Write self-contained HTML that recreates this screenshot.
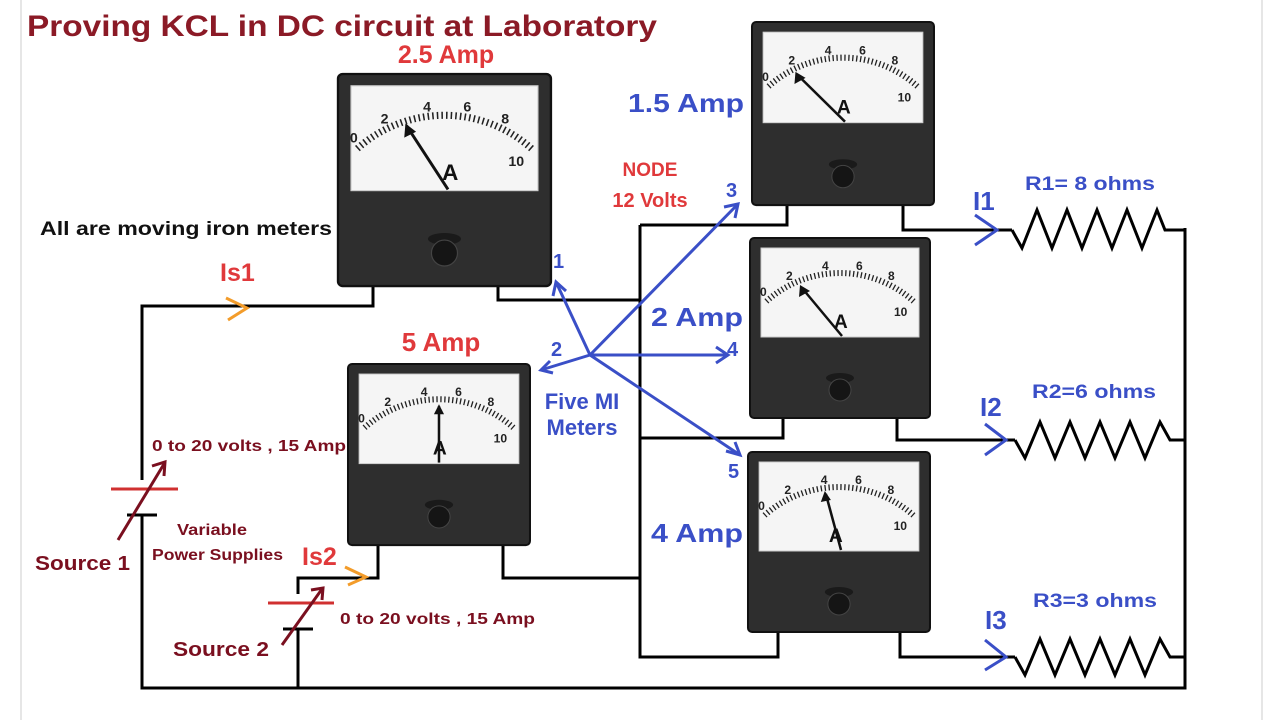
<!DOCTYPE html>
<html><head><meta charset="utf-8"><style>
html,body{margin:0;padding:0;background:#fff;}
svg{display:block;}
text{font-family:"Liberation Sans",sans-serif;font-weight:bold;}
</style></head><body>
<svg width="1280" height="720" viewBox="0 0 1280 720" xmlns="http://www.w3.org/2000/svg">
<rect width="1280" height="720" fill="#fff"/>
<line x1="21" y1="0" x2="21" y2="720" stroke="#e6e6e6" stroke-width="2"/>
<line x1="1262" y1="0" x2="1262" y2="720" stroke="#e6e6e6" stroke-width="2"/>

<g stroke="#000" stroke-width="3" fill="none">
<path d="M373,286 V306 H142 V688 H1185 V228"/>
<path d="M498,286 V300 H640"/>
<path d="M640,225 H787 V205"/>
<path d="M640,225 V657 H778 V632"/>
<path d="M640,438 H783 V418"/>
<path d="M503,545 V578 H640"/>
<path d="M378,545 V578 H298 V688"/>
<path d="M903,205 V230 H1012"/>
<path d="M897,418 V440 H1015"/>
<path d="M900,632 V657 H1015"/>
<path d="M1012,230 L1022,248 L1037,210 L1052,248 L1067,210 L1082,248 L1097,210 L1112,248 L1127,210 L1142,248 L1157,210 L1165,230 H1185"/>
<path d="M1015,440 L1025,458 L1040,422 L1055,458 L1070,422 L1085,458 L1100,422 L1115,458 L1130,422 L1145,458 L1160,422 L1170,440 H1185"/>
<path d="M1015,657 L1025,675 L1040,639 L1055,675 L1070,639 L1085,675 L1100,639 L1115,675 L1130,639 L1145,675 L1160,639 L1170,657 H1185"/>
</g>
<rect x="130" y="480" width="30" height="40" fill="#fff"/>
<line x1="111" y1="489" x2="178" y2="489" stroke="#d03030" stroke-width="3"/>
<line x1="127" y1="515" x2="157" y2="515" stroke="#000" stroke-width="3"/>
<line x1="142" y1="515" x2="142" y2="530" stroke="#000" stroke-width="3"/>
<line x1="118" y1="540" x2="164" y2="464" stroke="#7a0f1f" stroke-width="3"/>
<path d="M152,466 L165,462 L164,476" stroke="#7a0f1f" stroke-width="3" fill="none"/>
<rect x="290" y="594" width="20" height="36" fill="#fff"/>
<line x1="268" y1="603" x2="334" y2="603" stroke="#d03030" stroke-width="3"/>
<line x1="283" y1="629" x2="313" y2="629" stroke="#000" stroke-width="3"/>
<line x1="298" y1="629" x2="298" y2="640" stroke="#000" stroke-width="3"/>
<line x1="282" y1="645" x2="322" y2="589" stroke="#7a0f1f" stroke-width="3"/>
<path d="M311,590 L323,588 L322,600" stroke="#7a0f1f" stroke-width="3" fill="none"/>

<path d="M226,298 L247,308 L228,320" stroke="#f39c2a" stroke-width="3" fill="none"/>
<path d="M345,567 L366,577 L348,585" stroke="#f39c2a" stroke-width="3" fill="none"/>
<g stroke="#3a4fc7" stroke-width="3" fill="none">
<path d="M975,215 L997,230 L975,245"/>
<path d="M985,424 L1006,440 L985,455"/>
<path d="M985,640 L1006,657 L985,670"/>
</g>
<g stroke="#3a4fc7" stroke-width="3" fill="none">
<line x1="590" y1="355" x2="556" y2="282"/><path d="M553,296 L556,282 L566,291"/>
<line x1="590" y1="355" x2="541" y2="370"/><path d="M550,361 L541,370 L553,373"/>
<line x1="590" y1="355" x2="738" y2="204"/><path d="M724,207 L738,204 L735,218"/>
<line x1="590" y1="355" x2="728" y2="355"/><path d="M716,347 L728,355 L716,363"/>
<line x1="590" y1="355" x2="740" y2="455"/><path d="M726,451 L740,455 L735,442"/>
</g>

<g transform="translate(338,74) scale(1.183,1.178)">
<rect x="0" y="0" width="180" height="180" rx="4" fill="#2e2e2e" stroke="#111" stroke-width="2"/>
<rect x="11" y="10" width="158" height="89" fill="#f5f5f5" stroke="#ccc"/>
<path d="M16.4,63.3 A110,110 0 0 1 163.6,63.3" stroke="#222" stroke-width="6" fill="none" stroke-dasharray="1.3 2.6"/>
<g font-size="12" fill="#222"><text x="10" y="58">0</text><text x="36" y="42">2</text><text x="72" y="32">4</text><text x="106" y="32">6</text><text x="138" y="42">8</text><text x="144" y="78">10</text></g>
<line x1="93" y1="98" x2="58" y2="44" stroke="#111" stroke-width="2.5"/><path d="M56,54 L57,42 L66,49 Z" fill="#111"/>
<text x="88" y="90" font-size="19" fill="#111">A</text>
<ellipse cx="90" cy="140" rx="14" ry="5" fill="#1a1a1a"/><circle cx="90" cy="152" r="11" fill="#151515" stroke="#444"/>
</g>
<g transform="translate(752,22) scale(1.011,1.017)">
<rect x="0" y="0" width="180" height="180" rx="4" fill="#2e2e2e" stroke="#111" stroke-width="2"/>
<rect x="11" y="10" width="158" height="89" fill="#f5f5f5" stroke="#ccc"/>
<path d="M16.4,63.3 A110,110 0 0 1 163.6,63.3" stroke="#222" stroke-width="6" fill="none" stroke-dasharray="1.3 2.6"/>
<g font-size="12" fill="#222"><text x="10" y="58">0</text><text x="36" y="42">2</text><text x="72" y="32">4</text><text x="106" y="32">6</text><text x="138" y="42">8</text><text x="144" y="78">10</text></g>
<line x1="92" y1="98" x2="45" y2="52" stroke="#111" stroke-width="2.5"/><path d="M42,61 L43,49 L53,55 Z" fill="#111"/>
<text x="84" y="90" font-size="19" fill="#111">A</text>
<ellipse cx="90" cy="140" rx="14" ry="5" fill="#1a1a1a"/><circle cx="90" cy="152" r="11" fill="#151515" stroke="#444"/>
</g>
<g transform="translate(750,238)">
<rect x="0" y="0" width="180" height="180" rx="4" fill="#2e2e2e" stroke="#111" stroke-width="2"/>
<rect x="11" y="10" width="158" height="89" fill="#f5f5f5" stroke="#ccc"/>
<path d="M16.4,63.3 A110,110 0 0 1 163.6,63.3" stroke="#222" stroke-width="6" fill="none" stroke-dasharray="1.3 2.6"/>
<g font-size="12" fill="#222"><text x="10" y="58">0</text><text x="36" y="42">2</text><text x="72" y="32">4</text><text x="106" y="32">6</text><text x="138" y="42">8</text><text x="144" y="78">10</text></g>
<line x1="92" y1="98" x2="52" y2="50" stroke="#111" stroke-width="2.5"/><path d="M49,59 L50,47 L60,53 Z" fill="#111"/>
<text x="84" y="90" font-size="19" fill="#111">A</text>
<ellipse cx="90" cy="140" rx="14" ry="5" fill="#1a1a1a"/><circle cx="90" cy="152" r="11" fill="#151515" stroke="#444"/>
</g>
<g transform="translate(348,364) scale(1.011,1.006)">
<rect x="0" y="0" width="180" height="180" rx="4" fill="#2e2e2e" stroke="#111" stroke-width="2"/>
<rect x="11" y="10" width="158" height="89" fill="#f5f5f5" stroke="#ccc"/>
<path d="M16.4,63.3 A110,110 0 0 1 163.6,63.3" stroke="#222" stroke-width="6" fill="none" stroke-dasharray="1.3 2.6"/>
<g font-size="12" fill="#222"><text x="10" y="58">0</text><text x="36" y="42">2</text><text x="72" y="32">4</text><text x="106" y="32">6</text><text x="138" y="42">8</text><text x="144" y="78">10</text></g>
<line x1="90" y1="98" x2="90" y2="42" stroke="#111" stroke-width="2.5"/><path d="M85,50 L90,40 L95,50 Z" fill="#111"/>
<text x="84" y="90" font-size="19" fill="#111">A</text>
<ellipse cx="90" cy="140" rx="14" ry="5" fill="#1a1a1a"/><circle cx="90" cy="152" r="11" fill="#151515" stroke="#444"/>
</g>
<g transform="translate(748,452) scale(1.011,1)">
<rect x="0" y="0" width="180" height="180" rx="4" fill="#2e2e2e" stroke="#111" stroke-width="2"/>
<rect x="11" y="10" width="158" height="89" fill="#f5f5f5" stroke="#ccc"/>
<path d="M16.4,63.3 A110,110 0 0 1 163.6,63.3" stroke="#222" stroke-width="6" fill="none" stroke-dasharray="1.3 2.6"/>
<g font-size="12" fill="#222"><text x="10" y="58">0</text><text x="36" y="42">2</text><text x="72" y="32">4</text><text x="106" y="32">6</text><text x="138" y="42">8</text><text x="144" y="78">10</text></g>
<line x1="92" y1="98" x2="77" y2="42" stroke="#111" stroke-width="2.5"/><path d="M72,50 L76,39 L82,48 Z" fill="#111"/>
<text x="80" y="90" font-size="19" fill="#111">A</text>
<ellipse cx="90" cy="140" rx="14" ry="5" fill="#1a1a1a"/><circle cx="90" cy="152" r="11" fill="#151515" stroke="#444"/>
</g>

<text x="27" y="36" font-size="30" fill="#8b1a26" textLength="630" lengthAdjust="spacingAndGlyphs">Proving KCL in DC circuit  at Laboratory</text>
<text x="446" y="63" font-size="25" fill="#e0393b" text-anchor="middle">2.5 Amp</text>
<text x="686" y="112" font-size="26" fill="#3a4fc7" text-anchor="middle" textLength="116" lengthAdjust="spacingAndGlyphs">1.5 Amp</text>
<text x="650" y="176" font-size="19" fill="#e0393b" text-anchor="middle">NODE</text>
<text x="650" y="207" font-size="20" fill="#e0393b" text-anchor="middle">12 Volts</text>
<text x="40" y="235" font-size="19" fill="#111" textLength="292" lengthAdjust="spacingAndGlyphs">All are moving iron meters</text>
<text x="220" y="281" font-size="25" fill="#e0393b">Is1</text>
<text x="441" y="351" font-size="26" fill="#e0393b" text-anchor="middle">5 Amp</text>
<text x="697" y="326" font-size="26" fill="#3a4fc7" text-anchor="middle" textLength="92" lengthAdjust="spacingAndGlyphs">2 Amp</text>
<text x="697" y="542" font-size="26" fill="#3a4fc7" text-anchor="middle" textLength="92" lengthAdjust="spacingAndGlyphs">4 Amp</text>
<text x="582" y="409" font-size="22" fill="#3a4fc7" text-anchor="middle">Five MI</text>
<text x="582" y="435" font-size="22" fill="#3a4fc7" text-anchor="middle">Meters</text>
<g font-size="20" fill="#3a4fc7">
<text x="553" y="268">1</text><text x="551" y="356">2</text><text x="726" y="197">3</text><text x="727" y="356">4</text><text x="728" y="478">5</text>
</g>
<text x="152" y="451" font-size="16" fill="#7a0f1f" textLength="194" lengthAdjust="spacingAndGlyphs">0 to 20 volts , 15 Amp</text>
<text x="340" y="624" font-size="16" fill="#7a0f1f" textLength="195" lengthAdjust="spacingAndGlyphs">0 to 20 volts , 15 Amp</text>
<text x="177" y="535" font-size="16" fill="#7a0f1f" textLength="70" lengthAdjust="spacingAndGlyphs">Variable</text>
<text x="152" y="560" font-size="16" fill="#7a0f1f" textLength="131" lengthAdjust="spacingAndGlyphs">Power Supplies</text>
<text x="35" y="570" font-size="20" fill="#7a0f1f" textLength="95" lengthAdjust="spacingAndGlyphs">Source 1</text>
<text x="173" y="656" font-size="20" fill="#7a0f1f" textLength="96" lengthAdjust="spacingAndGlyphs">Source 2</text>
<text x="302" y="565" font-size="25" fill="#e0393b">Is2</text>
<text x="973" y="210" font-size="26" fill="#3a4fc7">I1</text>
<text x="1025" y="190" font-size="19" fill="#3a4fc7" textLength="130" lengthAdjust="spacingAndGlyphs">R1= 8 ohms</text>
<text x="980" y="416" font-size="26" fill="#3a4fc7">I2</text>
<text x="1032" y="398" font-size="19" fill="#3a4fc7" textLength="124" lengthAdjust="spacingAndGlyphs">R2=6 ohms</text>
<text x="985" y="629" font-size="26" fill="#3a4fc7">I3</text>
<text x="1033" y="607" font-size="19" fill="#3a4fc7" textLength="124" lengthAdjust="spacingAndGlyphs">R3=3 ohms</text>
</svg>
</body></html>
